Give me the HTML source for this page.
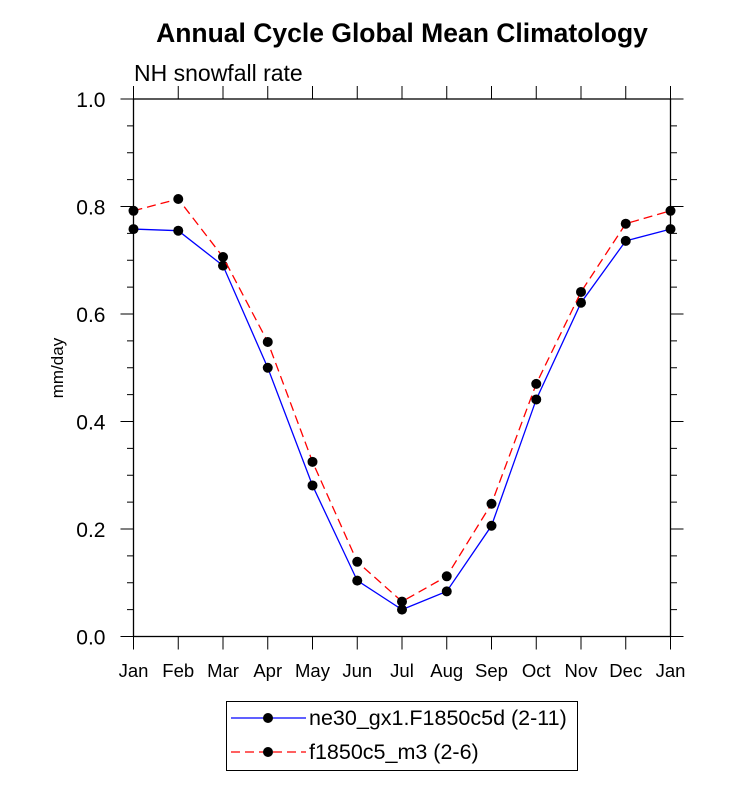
<!DOCTYPE html>
<html><head><meta charset="utf-8"><style>
body{margin:0;background:#fff;}
svg{display:block;font-family:"Liberation Sans",Arial,sans-serif;}
</style></head><body>
<svg id="chart" width="733" height="792">
<text x="402" y="42" text-anchor="middle" font-size="26.5" font-weight="bold">Annual Cycle Global Mean Climatology</text>
<text x="134" y="81" font-size="23">NH snowfall rate</text>
<text transform="translate(63,368) rotate(-90)" text-anchor="middle" font-size="17">mm/day</text>
<g id="axes"></g>
<g id="series"></g>
<g>
<rect x="226.5" y="701.5" width="351" height="69" fill="none" stroke="#000" stroke-width="1"/>
<line x1="231" y1="718" x2="306" y2="718" stroke="#0000ff" stroke-width="1.3"/>
<circle cx="268" cy="718" r="5" fill="#000"/>
<text x="309" y="725" font-size="21.5">ne30_gx1.F1850c5d (2-11)</text>
<line x1="231" y1="752" x2="306" y2="752" stroke="#ff0000" stroke-width="1.3" stroke-dasharray="9,5"/>
<circle cx="268" cy="752" r="5" fill="#000"/>
<text x="309" y="759" font-size="21.5">f1850c5_m3 (2-6)</text>
</g>
</svg>
<script>
const months=["Jan","Feb","Mar","Apr","May","Jun","Jul","Aug","Sep","Oct","Nov","Dec","Jan"];
const blueVals=[0.758,0.755,0.690,0.500,0.281,0.104,0.050,0.084,0.206,0.441,0.621,0.736,0.758];
const redVals=[0.792,0.814,0.706,0.548,0.325,0.139,0.065,0.112,0.247,0.470,0.641,0.768,0.792];
const yTicks=[0,0.2,0.4,0.6,0.8,1.0];
const yTickLabels=["0.0","0.2","0.4","0.6","0.8","1.0"];
const L=133.5,R=670.5,T=99,B=636.5;
const NS="http://www.w3.org/2000/svg";
function xs(i){return L+(R-L)*i/(months.length-1);}
function ys(v){return B-(B-T)*v/1.0;}
function el(tag,attrs,parent,text){const e=document.createElementNS(NS,tag);for(const k in attrs)e.setAttribute(k,attrs[k]);if(text!==undefined)e.textContent=text;parent.appendChild(e);return e;}
const ax=document.getElementById('axes');
const frame=el('rect',{x:L,y:T,width:R-L,height:B-T,fill:'none',stroke:'#000','stroke-width':1.3},ax);


for(let v=0;v<=1.0001;v+=0.05){
  const major=Math.abs(v*5-Math.round(v*5))<1e-6;
  const len=major?13:6.5;const y=ys(v);
  el('line',{x1:L-len,y1:y,x2:L,y2:y,stroke:'#000','stroke-width':1},ax);
  el('line',{x1:R,y1:y,x2:R+len,y2:y,stroke:'#000','stroke-width':1},ax);
}
yTicks.forEach((v,i)=>{
  const t=el('text',{x:L-28,y:ys(v)+8,'text-anchor':'end','font-size':21},ax,yTickLabels[i]);
  
  
});
months.forEach((m,i)=>{
  const x=xs(i);
  el('line',{x1:x,y1:B,x2:x,y2:B+13,stroke:'#000','stroke-width':1},ax);
  el('line',{x1:x,y1:T-13,x2:x,y2:T,stroke:'#000','stroke-width':1},ax);
  const t=el('text',{x:x,y:677,'text-anchor':'middle','font-size':18.5},ax,m);
  
  
});
const sg=document.getElementById('series');
function drawSeries(vals,color,dash,name){
  const pts=vals.map((v,i)=>xs(i)+','+ys(v)).join(' ');
  const p=el('polyline',{points:pts,fill:'none',stroke:color,'stroke-width':1.3,'stroke-dasharray':dash},sg);
  
  
  vals.forEach((v,i)=>{
    const c=el('circle',{cx:xs(i),cy:ys(v),r:5,fill:'#000'},sg);
    
    
  });
}
drawSeries(blueVals,'#0000ff','none','ne30-series');
drawSeries(redVals,'#ff0000','9,5','f1850-series');
</script>
</body></html>
